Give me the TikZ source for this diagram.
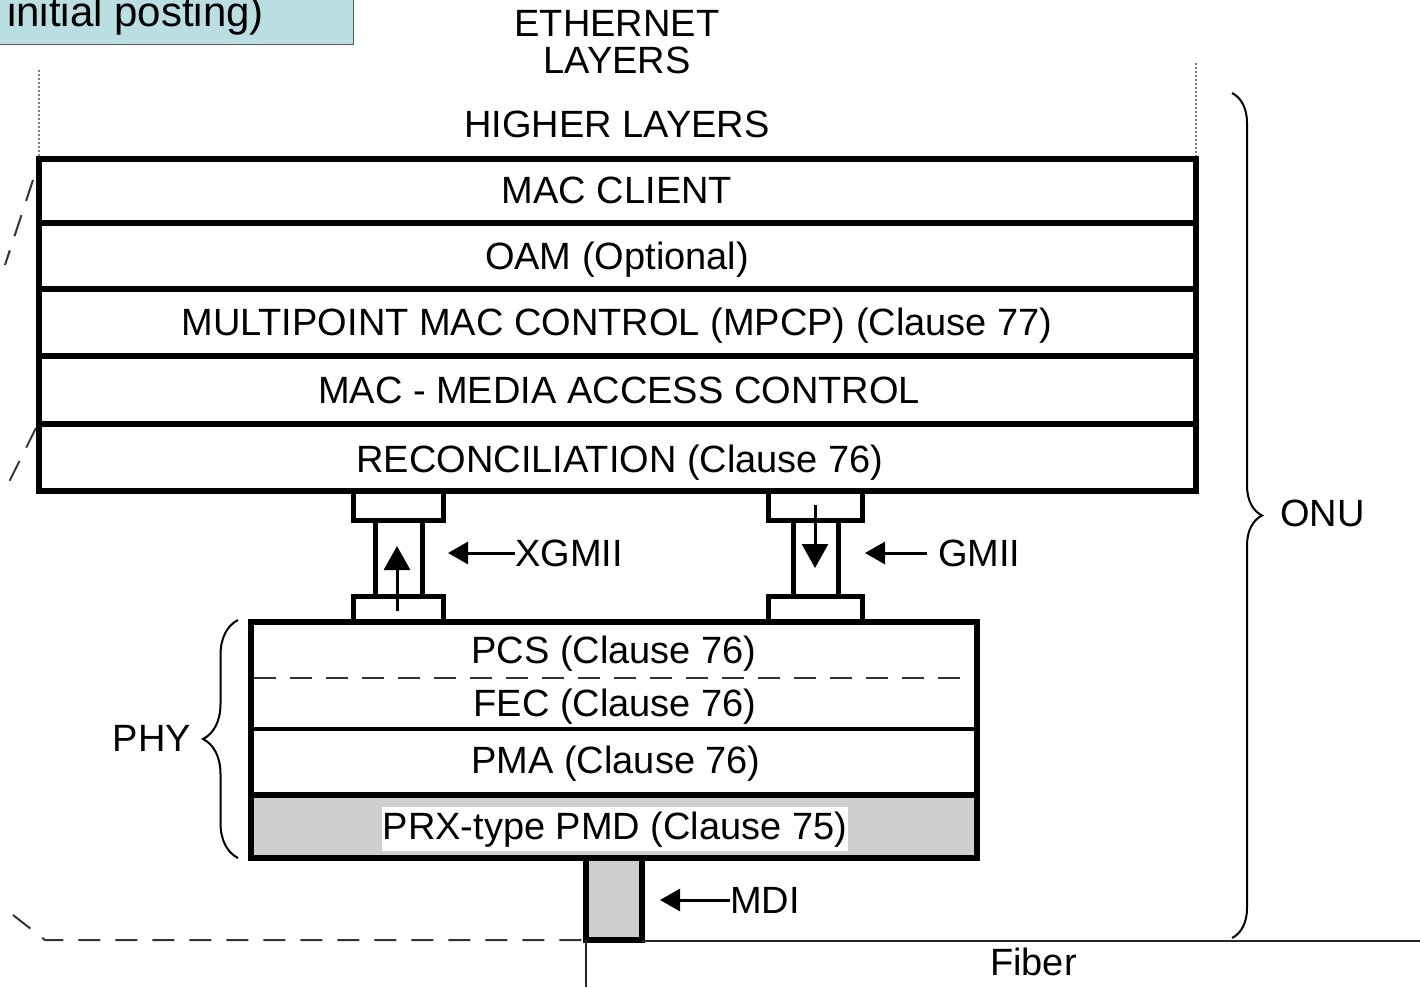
\documentclass[tikz,border=0pt]{standalone}
\usepackage{fontspec}
\setmainfont{Liberation Sans}
\usetikzlibrary{arrows.meta,decorations.pathreplacing}
\definecolor{capblue}{HTML}{B9DFE3}
\definecolor{pmdgray}{HTML}{CFCFCF}
\begin{document}
\begin{tikzpicture}[x=1pt,y=-1pt,
  lbl/.style={font=\fontsize{38}{40}\selectfont, inner sep=0pt, anchor=base},
  heavy/.style={line width=6pt},
  capline/.style={line width=5pt},
  guide/.style={gray, line width=2pt, dotted},
  ghost/.style={black!80, line width=2pt, dash pattern=on 22pt off 15pt},
  ptr/.style={line width=3pt, -{Triangle[length=20pt,width=22pt]}},
  flow/.style={line width=3pt, -{Triangle[length=24pt,width=26pt]}},
  bracepath/.style={line width=2pt, decorate}
]
\useasboundingbox (0,0) rectangle (1420,987);

% caption box at top left
\fill[capblue, draw=gray!70!black, line width=1pt] (-5,-5) rectangle (353,45);
\node[lbl, anchor=base west, font=\fontsize{42}{44}\selectfont] (note) at (7,27) {initial posting)};

% title
\node[lbl] (eth) at (617,37) {ETHERNET};
\node[lbl] (lay) at (617,74) {LAYERS};
\node[lbl] (higher) at (617,138) {HIGHER LAYERS};

% dotted guides
\draw[guide] (39,70) -- (39,157);
\draw[guide] (1196,63) -- (1196,157);

% left ghost dashed lines
\draw[ghost] (33,180) -- (5,265);
\draw[ghost] (36,428) -- (5,490);

% upper stack
\draw[heavy] (39,159) rectangle (1196,491);
\foreach \yy in {223,289,356,424} \draw[heavy] (39,\yy) -- (1196,\yy);
\node[lbl] (client) at (617,204) {MAC CLIENT};
\node[lbl] (oam) at (617,269) {OAM (Optional)};
\node[lbl] (mpcp) at (617,335) {MULTIPOINT MAC CONTROL (MPCP) (Clause 77)};
\node[lbl] (mac) at (619,403) {MAC - MEDIA ACCESS CONTROL};
\node[lbl] (rec) at (620,472) {RECONCILIATION (Clause 76)};

% XGMII connector
\draw[capline] (353,491) rectangle (443,520);
\draw[capline] (375,520) -- (375,596) (422,520) -- (422,596);
\draw[capline] (353,596) rectangle (443,622);
\coordinate (xlow) at (397,611);
\coordinate (xhigh) at (397,546);
\draw[flow] (xlow) -- (xhigh);
\node[lbl, anchor=base west] (xgmii) at (515,566) {XGMII};
\coordinate (xptr) at (448,553);
\draw[ptr] (xgmii.west |- xptr) -- (xptr);

% GMII connector
\draw[capline] (768,491) rectangle (862,520);
\draw[capline] (793,520) -- (793,596) (838,520) -- (838,596);
\draw[capline] (768,596) rectangle (862,622);
\coordinate (ghigh) at (815,505);
\coordinate (glow) at (815,568);
\draw[flow] (ghigh) -- (glow);
\node[lbl, anchor=base west] (gmii) at (938,566) {GMII};
\coordinate (gptr) at (865,553);
\draw[ptr] (927,553) -- (gptr);

% PHY stack
\fill[pmdgray] (251,795) rectangle (977,858);
\draw[heavy] (251,622) rectangle (977,858);
\draw[line width=1.5pt, dash pattern=on 22pt off 14pt, black!80] (254,678) -- (974,678);
\draw[line width=4pt] (251,729) -- (977,729);
\draw[heavy] (251,795) -- (977,795);
\node[lbl] (pcs) at (614,663) {PCS (Clause 76)};
\node[lbl] (fec) at (615,716) {FEC (Clause 76)};
\node[lbl] (pma) at (616,773) {PMA (Clause 76)};
\node[lbl, fill=white, inner xsep=1pt, inner ysep=4pt] (pmd) at (615,839) {PRX-type PMD (Clause 75)};

% PHY brace
\draw[bracepath, decoration={brace, amplitude=35pt}] (238,858) -- (238,620);
\node[lbl, anchor=base east] (phy) at (191,751) {PHY};

% MDI
\filldraw[fill=pmdgray, heavy] (586,858) rectangle (642,940);
\node[lbl, anchor=base west] (mdi) at (730,913) {MDI};
\coordinate (mptr) at (660,900);
\draw[ptr] (mdi.west |- mptr) -- (mptr);

% fiber and ghost line at bottom
\draw[ghost] (13,915) -- (45,940) -- (583,940);
\draw[black!85, line width=2pt] (642,941) -- (1420,941);
\draw[black!85, line width=1.5pt] (586,940) -- (586,987);
\node[lbl, anchor=base west] (fiber) at (990,975) {Fiber};

% ONU brace
\draw[bracepath, decoration={brace, amplitude=30pt}] (1232,93) -- (1232,938);
\node[lbl, anchor=base west] (onu) at (1280,526) {ONU};
\end{tikzpicture}
\end{document}
